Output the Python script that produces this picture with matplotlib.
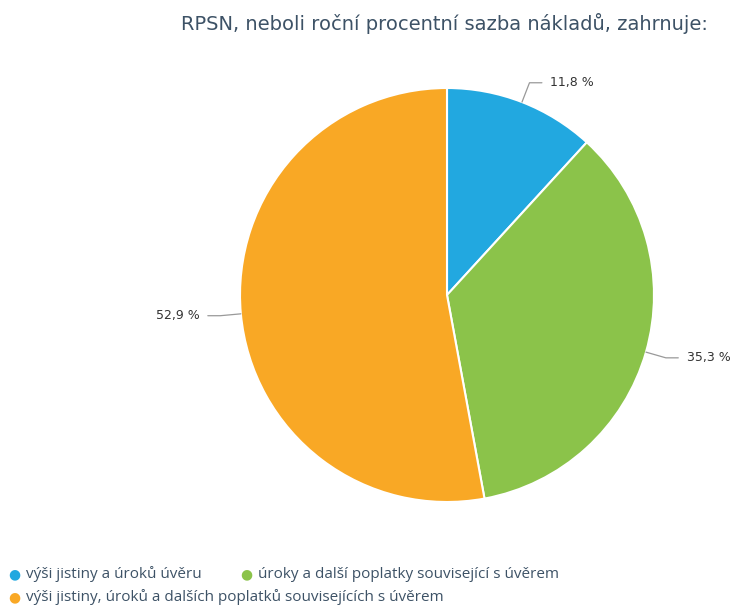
import numpy as np
import matplotlib
matplotlib.use("Agg")
import matplotlib.pyplot as plt

title = "RPSN, neboli roční procentní sazba nákladů, zahrnuje:"
categories = [
    "výši jistiny a úroků úvěru",
    "úroky a další poplatky související s úvěrem",
    "výši jistiny, úroků a dalších poplatků souvisejících s úvěrem",
]
values = [11.8, 35.3, 52.9]
colors = ["#22A8E0", "#8BC34A", "#F9A825"]

W, H = 737, 607
fig = plt.figure(figsize=(W / 100, H / 100), dpi=100)

# pie centre (447, 295) px, radius 207 px
cx, cy, r = 447, 295, 207
ax = fig.add_axes([(cx - r) / W, (H - cy - r) / H, 2 * r / W, 2 * r / H])
ax.pie(values, colors=colors, startangle=90, counterclock=False,
       wedgeprops=dict(edgecolor="white", linewidth=1.5))
ax.set_xlim(-1, 1)
ax.set_ylim(-1, 1)
ax.set_aspect("equal")
ax.axis("off")

# data labels with connectors
cum = np.cumsum([0] + values[:-1])
for v, c0 in zip(values, cum):
    mid = np.deg2rad(90 - (c0 + v / 2) / 100 * 360)
    ex, ey = np.cos(mid), np.sin(mid)
    bx, by = 1.1 * ex, 1.1 * ey
    side = 1 if ex >= 0 else -1
    hx = bx + side * 0.06
    ax.plot([ex, bx, hx], [ey, by, by], color="#999999", lw=0.9,
            clip_on=False, solid_capstyle="round")
    ax.text(hx + side * 0.04, by, f"{v:.1f} %".replace(".", ","),
            ha="left" if side > 0 else "right", va="center",
            fontsize=9, color="#333333", clip_on=False)

fig.text(708 / W, 1 - 24 / H, title, ha="right", va="center",
         fontsize=14, color="#3D5266")

# legend drawn by hand (two items in first row, one in second)
leg_pos = [(14, 574), (246, 574), (14, 597)]
for (px, py), lab, col in zip(leg_pos, categories, colors):
    fig.text(px / W, 1 - py / H, "\u25CF", color=col, fontsize=10,
             ha="center", va="center")
    fig.text((px + 12) / W, 1 - py / H, lab, color="#3D5266",
             fontsize=11, family="Open Sans", ha="left", va="center")

fig.savefig("out.png", dpi=100)
